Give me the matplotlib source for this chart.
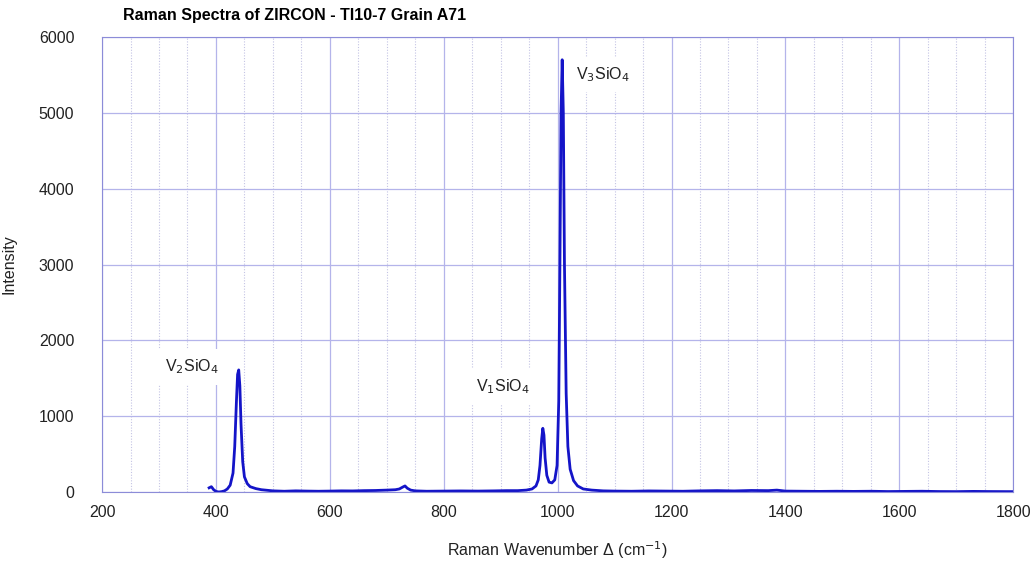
import matplotlib.pyplot as plt
from matplotlib.ticker import MultipleLocator

plt.rcParams['font.family'] = ['Liberation Sans', 'DejaVu Sans']

# Spectrum (wavenumber cm-1, intensity)
wavenumber = [388, 392, 396, 400, 405, 410, 415, 420, 425, 430, 433, 436, 438, 440,
              442, 444, 447, 450, 455, 460, 470, 480, 500, 520, 540, 560, 580, 600,
              620, 640, 660, 680, 700, 715, 722, 728, 732, 736, 742, 750, 770, 800,
              830, 860, 890, 910, 930, 945, 955, 962, 966, 969, 972, 974, 976, 978,
              981, 985, 990, 995, 999, 1002, 1004, 1006, 1008, 1010, 1012, 1015,
              1018, 1022, 1028, 1035, 1045, 1060, 1080, 1100, 1130, 1160, 1190,
              1220, 1250, 1280, 1310, 1340, 1370, 1385, 1400, 1430, 1460, 1490,
              1520, 1550, 1580, 1610, 1640, 1670, 1700, 1730, 1760, 1790, 1800]
intensity = [55, 70, 30, 8, 0, 5, 15, 40, 90, 250, 600, 1200, 1550, 1610,
             1400, 900, 400, 200, 110, 70, 45, 30, 15, 10, 15, 12, 10, 12,
             15, 14, 18, 20, 25, 30, 40, 65, 80, 50, 25, 15, 10, 12,
             14, 12, 15, 18, 18, 25, 40, 80, 160, 350, 700, 840, 750, 450,
             220, 130, 120, 160, 350, 1200, 3000, 5000, 5700, 5000, 3000, 1300,
             600, 300, 150, 80, 40, 25, 15, 12, 10, 14, 12,
             10, 15, 18, 14, 20, 18, 25, 12, 10, 8, 10,
             8, 10, 6, 8, 10, 6, 5, 8, 6, 5, 5]

peak_labels = ['V$_2$SiO$_4$', 'V$_1$SiO$_4$', 'V$_3$SiO$_4$']
label_x = [358, 904, 1080]
label_y = [1650, 1390, 5510]

fig = plt.figure(figsize=(10.36, 5.65), dpi=100)
ax = fig.add_axes([0.0985, 0.1292, 0.8795, 0.8053])

frame = '#8c8cd8'
ax.set_xlim(200, 1800)
ax.set_ylim(0, 6000)
ax.xaxis.set_major_locator(MultipleLocator(200))
ax.xaxis.set_minor_locator(MultipleLocator(50))
ax.yaxis.set_major_locator(MultipleLocator(1000))
ax.grid(which='major', color='#b4b4ea', linewidth=0.9)
ax.grid(which='minor', axis='x', color='#c4c4e4', linewidth=0.8, linestyle=(0, (1, 1.5)))
ax.set_axisbelow(True)
for s in ax.spines.values():
    s.set_color(frame)
ax.tick_params(which='both', length=0, labelsize=11.5, colors='#222222')
ax.tick_params(axis='x', pad=9)
ax.tick_params(axis='y', pad=20)

ax.plot(wavenumber, intensity, color='#1414c8', linewidth=2)

for t, x, y in zip(peak_labels, label_x, label_y):
    ax.text(x, y, t, fontsize=11.5, ha='center', va='center', color='#222222',
            bbox=dict(facecolor='white', edgecolor='none', pad=6))

ax.set_xlabel('Raman Wavenumber \u0394 (cm$^{-1}$)', fontsize=11.5, labelpad=14, color='#222222')
ax.set_ylabel('Intensity', fontsize=11.5, labelpad=16, color='#222222')
fig.text(0.119, 0.972, 'Raman Spectra of ZIRCON - TI10-7 Grain A71',
         fontsize=11.5, fontweight='bold', va='center')

fig.savefig('out.png')
